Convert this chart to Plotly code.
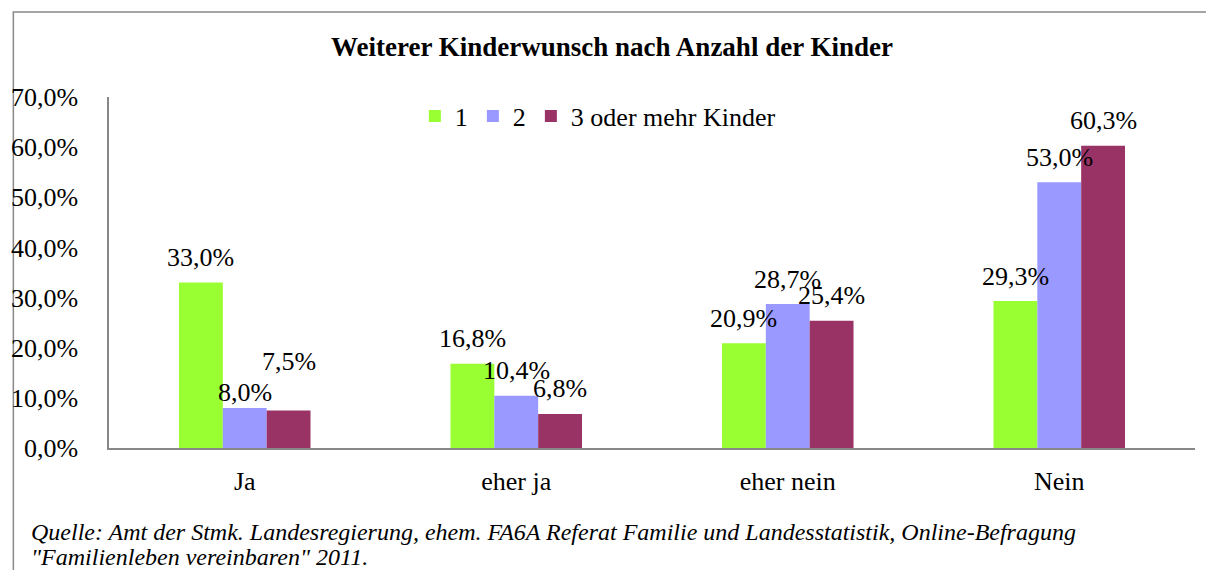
import plotly.graph_objects as go

# ---- data ----
categories = ["Ja", "eher ja", "eher nein", "Nein"]
series_names = ["1", "2", "3 oder mehr Kinder"]
values_1 = [33.0, 16.8, 20.9, 29.3]
values_2 = [8.0, 10.4, 28.7, 53.0]
values_3 = [7.5, 6.8, 25.4, 60.3]
y_tick_values = [0, 10, 20, 30, 40, 50, 60, 70]
y_tick_labels = ["0,0%", "10,0%", "20,0%", "30,0%", "40,0%", "50,0%", "60,0%", "70,0%"]
title_text = "Weiterer Kinderwunsch nach Anzahl der Kinder"
source_line_1 = "Quelle: Amt der Stmk. Landesregierung, ehem. FA6A Referat Familie und Landesstatistik, Online-Befragung"
source_line_2 = "\"Familienleben vereinbaren\" 2011."

# ---- style ----
colors = ["#99FF33", "#9999FF", "#993366"]
FONT = "Liberation Serif, Times New Roman, serif"
BAR_W = 0.1615
LABEL_LIFT = 25                      # px above bar top (label centre)
LABEL_LIFT_EXCEPTIONS = {(1, 0): 15, (2, 0): 49}   # (series, category) -> px
AXIS_COLOR = "#888888"

W, H = 1206, 570
ML, MR, MT, MB = 105, 11, 97, 122
PW, PH = W - ML - MR, H - MT - MB


def fmt(v):
    return f"{v:.1f}".replace(".", ",") + "%"


def px_to_paper_x(px):
    return (px - ML) / PW


def px_to_paper_y(py):
    return (H - MB - py) / PH


all_values = [values_1, values_2, values_3]
xpos = list(range(len(categories)))

fig = go.Figure()
for i, (name, vals) in enumerate(zip(series_names, all_values)):
    fig.add_trace(go.Bar(
        x=xpos, y=vals, name=name,
        width=BAR_W, offset=-1.5 * BAR_W + i * BAR_W,
        marker=dict(color=colors[i], line=dict(width=0)),
        hoverinfo="skip",
    ))

annotations = []
for i, vals in enumerate(all_values):
    for j, v in enumerate(vals):
        annotations.append(dict(
            x=j + (i - 1) * BAR_W, y=v, xref="x", yref="y",
            text=fmt(v), showarrow=False,
            xanchor="center", yanchor="middle",
            yshift=LABEL_LIFT_EXCEPTIONS.get((i, j), LABEL_LIFT),
            font=dict(family=FONT, size=26, color="#000000"),
        ))

for text, py in ((source_line_1, 532), (source_line_2, 557)):
    annotations.append(dict(
        x=px_to_paper_x(25), y=px_to_paper_y(py), xref="paper", yref="paper",
        text="<i>" + text + "</i>", showarrow=False, xanchor="left", yanchor="middle",
        font=dict(family=FONT, size=24, color="#000000"),
    ))

fig.update_layout(
    width=W, height=H,
    margin=dict(l=ML, r=MR, t=MT, b=MB, pad=0),
    paper_bgcolor="white", plot_bgcolor="white",
    barmode="overlay",
    showlegend=True,
    title=dict(
        text="<b>" + title_text + "</b>",
        x=612 / W, xref="container", xanchor="center",
        y=1 - 47 / H, yref="container", yanchor="middle",
        font=dict(family=FONT, size=27, color="#000000"),
    ),
    legend=dict(
        orientation="h",
        x=px_to_paper_x(412), xanchor="left",
        y=px_to_paper_y(116), yanchor="middle",
        font=dict(family=FONT, size=26, color="#000000"),
        bgcolor="rgba(0,0,0,0)",
        itemwidth=30,
        traceorder="normal",
    ),
    xaxis=dict(
        range=[-0.5, len(categories) - 0.5],
        tickvals=xpos, ticktext=categories,
        showgrid=False, zeroline=False,
        showline=True, linecolor=AXIS_COLOR, linewidth=1.5,
        ticks="", ticklabelstandoff=9,
        tickfont=dict(family=FONT, size=26, color="#000000"),
        fixedrange=True,
    ),
    yaxis=dict(
        range=[0, 70],
        tickvals=y_tick_values, ticktext=y_tick_labels,
        showgrid=False, zeroline=False,
        showline=True, linecolor=AXIS_COLOR, linewidth=1.5,
        ticks="", ticklabelstandoff=24,
        tickfont=dict(family=FONT, size=26, color="#000000"),
        fixedrange=True,
    ),
    annotations=annotations,
    shapes=[dict(
        type="rect", xref="paper", yref="paper", layer="below",
        x0=px_to_paper_x(9), x1=px_to_paper_x(1212),
        y0=px_to_paper_y(12), y1=px_to_paper_y(580),
        line=dict(color=AXIS_COLOR, width=1.5),
        fillcolor="rgba(0,0,0,0)",
    )],
)

fig.write_html(
    "out.html",
    config={"displayModeBar": False},
    post_script="document.body.style.margin='0px';",
)
